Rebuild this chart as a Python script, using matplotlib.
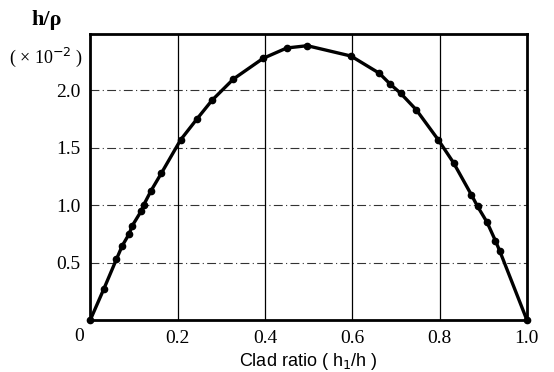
import matplotlib.pyplot as plt

# clad ratio vs h/rho (x 1e-2)
clad_ratio = [0.0, 0.031, 0.060, 0.073, 0.089, 0.096, 0.116, 0.122, 0.139, 0.163,
              0.207, 0.244, 0.279, 0.328, 0.396, 0.450, 0.497, 0.597, 0.662,
              0.687, 0.711, 0.747, 0.797, 0.832, 0.873, 0.887, 0.909, 0.928,
              0.938, 1.0]
h_rho = [0.0, 0.27, 0.53, 0.645, 0.75, 0.82, 0.945, 1.0, 1.125, 1.28,
         1.57, 1.75, 1.915, 2.10, 2.28, 2.37, 2.39, 2.30, 2.15,
         2.055, 1.975, 1.83, 1.57, 1.37, 1.09, 0.99, 0.85, 0.69,
         0.60, 0.0]

x_ticks = [0.2, 0.4, 0.6, 0.8, 1.0]
y_ticks = [0.5, 1.0, 1.5, 2.0]

serif = "Liberation Serif"
sans = "Liberation Sans"

fig = plt.figure(figsize=(5.54, 3.72), dpi=100)
ax = fig.add_axes([0.163, 0.14, 0.788, 0.768])

ax.plot(clad_ratio, h_rho, color="black", lw=2.4, marker="o", ms=4.5,
        clip_on=False, zorder=3)

ax.set_xlim(0, 1.0)
ax.set_ylim(0, 2.49)
ax.set_xticks(x_ticks)
ax.set_yticks(y_ticks)
ax.set_xticklabels(["0.2", "0.4", "0.6", "0.8", "1.0"], family=serif, fontsize=14)
ax.set_yticklabels(["0.5", "1.0", "1.5", "2.0"], family=serif, fontsize=14)
ax.tick_params(length=0, pad=7)

for x in x_ticks[:-1]:
    ax.axvline(x, color="black", lw=0.9, zorder=1)
for y in y_ticks:
    ax.axhline(y, color="black", lw=0.8, ls=(0, (8, 3, 1, 3)), alpha=0.8, zorder=1)

for s in ax.spines.values():
    s.set_linewidth(2.0)

ax.text(-0.015, -0.03, "0", transform=ax.transAxes, ha="right", va="top",
        family=serif, fontsize=14)
ax.set_xlabel("Clad ratio ( h$_1$/h )", family=sans, fontsize=13, labelpad=3)

fig.text(0.085, 0.946, "h/\u03c1", ha="center", va="center", family=serif,
         fontsize=16, fontweight="bold")
fig.text(0.083, 0.845, "( \u00d7 10$^{-2}$ )", ha="center", va="center",
         family=serif, fontsize=13)

fig.savefig("out.png", dpi=100)
